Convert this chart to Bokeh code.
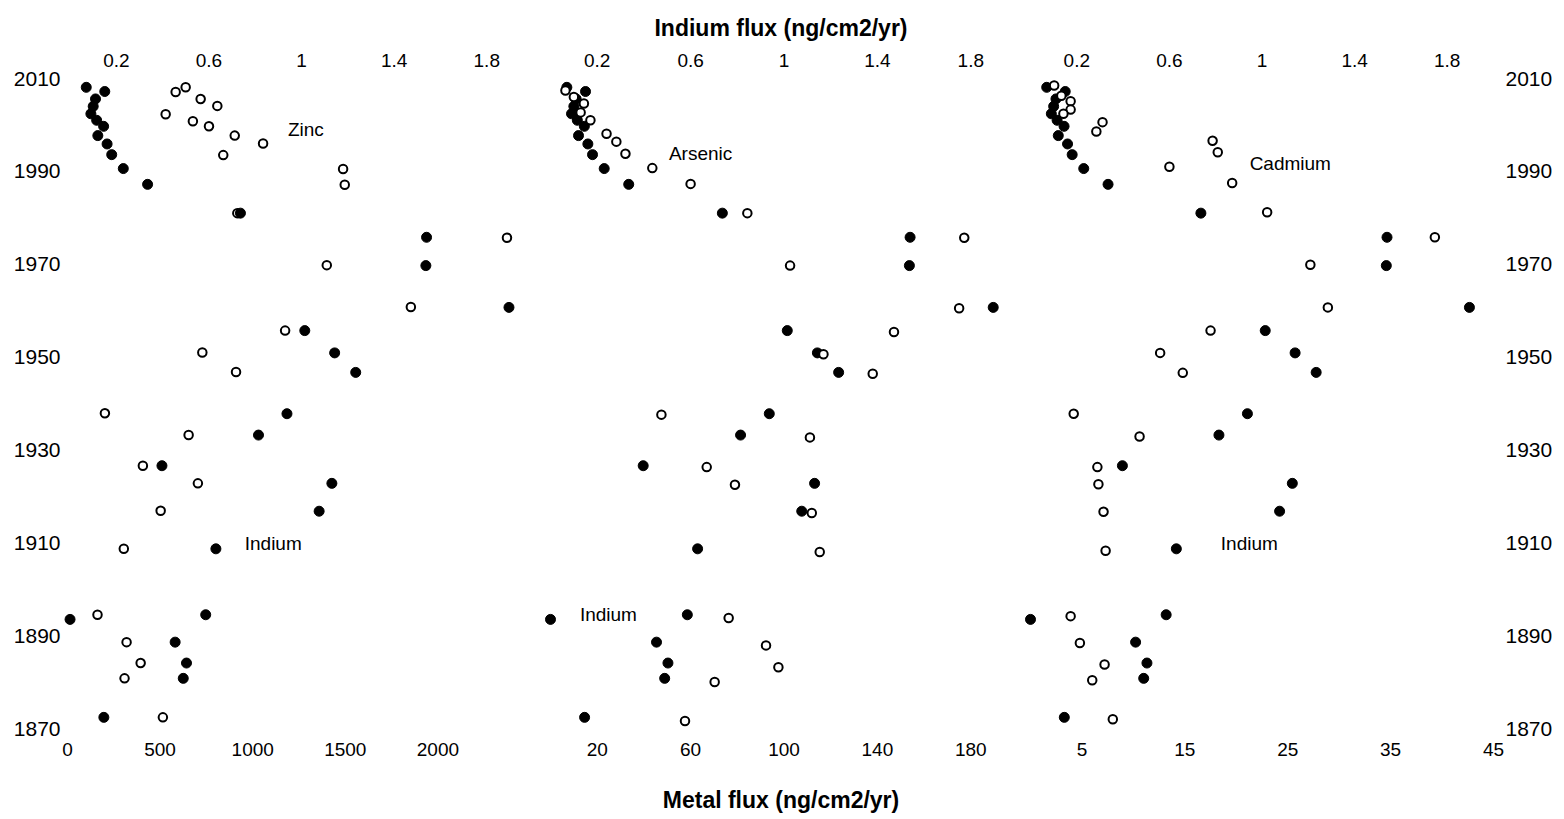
from bokeh.plotting import figure
from bokeh.models import Range1d, LinearAxis, FixedTicker, CustomJSTickFormatter, Label
from bokeh.layouts import row
from bokeh.embed import file_html
from bokeh.resources import INLINE

# ---------------- data ----------------
indium_years = [2008.1, 2007.2, 2005.6, 2004.0, 2002.4, 2001.0, 1999.7, 1997.7, 1995.9,
                1993.6, 1990.6, 1987.2, 1981.0, 1975.8, 1969.7, 1960.7, 1955.7, 1950.9,
                1946.7, 1937.8, 1933.2, 1926.6, 1922.8, 1916.8, 1908.7, 1894.5, 1893.5,
                1888.6, 1884.1, 1880.8, 1872.4]
indium_flux = [0.07, 0.15, 0.11, 0.10, 0.09, 0.115, 0.145, 0.12, 0.16,
               0.18, 0.23, 0.335, 0.736, 1.54, 1.537, 1.896, 1.014, 1.143,
               1.234, 0.937, 0.814, 0.397, 1.131, 1.076, 0.630, 0.586, 0.0,
               0.454, 0.503, 0.489, 0.146]

zinc_years = [2008.1, 2007.1, 2005.6, 2004.1, 2002.3, 2000.8, 1999.7, 1997.7, 1996.0,
              1993.5, 1990.5, 1987.1, 1981.0, 1975.7, 1969.8, 1960.8, 1955.7, 1951.0,
              1946.8, 1937.9, 1933.2, 1926.6, 1922.8, 1916.9, 1908.7, 1894.5, 1888.6,
              1884.1, 1880.8, 1872.4]
zinc_flux = [638, 584, 719, 809, 530, 677, 764, 903, 1056,
             841, 1488, 1497, 917, 2373, 1400, 1854, 1175, 728,
             910, 202, 654, 407, 704, 503, 304, 162, 319,
             395, 308, 515]

arsenic_years = [2007.4, 2006.0, 2004.6, 2002.7, 2001.0, 1998.1, 1996.4, 1993.8, 1990.7,
                 1987.3, 1981.0, 1975.7, 1969.7, 1960.5, 1955.4, 1950.6, 1946.4, 1937.6,
                 1932.7, 1926.3, 1922.5, 1916.4, 1908.0, 1893.8, 1887.9, 1883.2, 1880.0,
                 1871.6]
arsenic_flux = [6.4, 10.0, 14.3, 12.9, 17.1, 24.0, 28.2, 32.1, 43.6,
                60.0, 84.3, 177.2, 102.6, 175.0, 147.1, 116.9, 138.0, 47.5,
                111.1, 66.9, 79.0, 111.9, 115.3, 76.3, 92.3, 97.6, 70.3,
                57.6]

cadmium_years = [2008.5, 2006.3, 2005.1, 2003.3, 2002.4, 2000.6, 1998.6, 1996.6, 1994.1,
                 1991.0, 1987.5, 1981.2, 1975.8, 1969.9, 1960.7, 1955.7, 1950.9, 1946.6,
                 1937.8, 1932.9, 1926.3, 1922.6, 1916.7, 1908.3, 1894.2, 1888.4, 1883.8,
                 1880.4, 1872.0]
cadmium_flux = [2.3, 3.0, 3.9, 3.9, 3.2, 7.0, 6.4, 17.7, 18.2,
                13.5, 19.6, 23.0, 39.3, 27.2, 28.9, 17.5, 12.6, 14.8,
                4.2, 10.6, 6.5, 6.6, 7.1, 7.3, 3.9, 4.8, 7.2,
                6.0, 8.0]

year_ticks = [1870, 1890, 1910, 1930, 1950, 1970, 1990, 2010]
indium_ticks = [0.2, 0.6, 1, 1.4, 1.8]
zinc_ticks = [0, 500, 1000, 1500, 2000]
arsenic_ticks = [20, 60, 100, 140, 180]
cadmium_ticks = [5, 15, 25, 35, 45]

FONT = "Liberation Sans"
PAD = 6  # px of frame left of the zero line so points at zero are not clipped
fmt = CustomJSTickFormatter(code="return tick.toString();")


def style_axis(ax, size="19px", standoff=6, tick_out=6):
    ax.axis_line_color = None
    ax.major_tick_line_color = None
    ax.minor_tick_line_color = None
    ax.major_tick_out = tick_out
    ax.major_tick_in = 0
    ax.major_label_text_font = FONT
    ax.major_label_text_font_size = size
    ax.major_label_text_color = "black"
    ax.major_label_standoff = standoff
    ax.formatter = fmt


def panel(years, flux, xmax, ticks, name, name_pos, ind_pos, w0, bl, br, yloc,
          open_on_top, top_shift=0.0, titles=False):
    sb = xmax / w0
    st = 2.0 / w0
    width = bl + w0 + PAD + br
    p = figure(width=width, height=819, x_range=Range1d(-PAD * sb, xmax),
               y_range=Range1d(1870, 2010), output_backend="svg",
               toolbar_location=None, tools="", min_border_left=bl,
               min_border_right=br, min_border_top=78, min_border_bottom=91,
               y_axis_location=yloc)
    p.extra_x_ranges = {"in": Range1d(-PAD * st - top_shift, 2 - top_shift)}
    p.xgrid.visible = False
    p.ygrid.visible = False
    p.outline_line_color = None

    bottom = p.xaxis[0]
    bottom.ticker = FixedTicker(ticks=ticks)
    style_axis(bottom, standoff=8)

    top = LinearAxis(x_range_name="in", ticker=FixedTicker(ticks=indium_ticks))
    style_axis(top, standoff=6)
    p.add_layout(top, "above")

    if yloc is not None:
        p.yaxis.ticker = FixedTicker(ticks=year_ticks)
        for ax in p.yaxis:
            style_axis(ax, size="21px", standoff=1 if yloc == "left" else 12,
                       tick_out=0)

    if titles:
        top.axis_label = "Indium flux (ng/cm2/yr)"
        bottom.axis_label = "Metal flux (ng/cm2/yr)"
        for ax, so in ((top, 10), (bottom, 28)):
            ax.axis_label_text_font = FONT
            ax.axis_label_text_font_style = "bold"
            ax.axis_label_text_font_size = "23px"
            ax.axis_label_text_color = "black"
            ax.axis_label_standoff = so

    def draw_open():
        p.scatter(flux, years, marker="circle", size=8.5, fill_color="white",
                  line_color="black", line_width=2)

    def draw_filled():
        p.scatter(indium_flux, indium_years, marker="circle", size=10,
                  fill_color="black", line_color="black", line_width=1,
                  x_range_name="in")

    if open_on_top:
        draw_filled()
        draw_open()
    else:
        draw_open()
        draw_filled()

    p.add_layout(Label(x=name_pos[0], y=name_pos[1], text=name, text_font=FONT,
                       text_font_size="19px", text_baseline="middle",
                       text_align="left", text_color="black"))
    p.add_layout(Label(x=ind_pos[0], y=ind_pos[1], text="Indium", text_font=FONT,
                       text_font_size="19px", text_baseline="middle",
                       text_align="left", text_color="black"))
    return p


p1 = panel(zinc_years, zinc_flux, 2500, zinc_ticks, "Zinc", (1190, 1999.0),
           (957, 1909.8), 463, 61, 10, "left", False, top_shift=0.011)
p2 = panel(arsenic_years, arsenic_flux, 200, arsenic_ticks, "Arsenic", (50.7, 1993.9),
           (12.6, 1894.6), 467, 4, 6, None, True, titles=True)
p3 = panel(cadmium_years, cadmium_flux, 45, cadmium_ticks, "Cadmium", (21.3, 1991.6),
           (18.5, 1909.8), 463, 1, 71, "right", True)

layout = row(p1, p2, p3, spacing=0)
open("out.html", "w").write(file_html(layout, INLINE))
